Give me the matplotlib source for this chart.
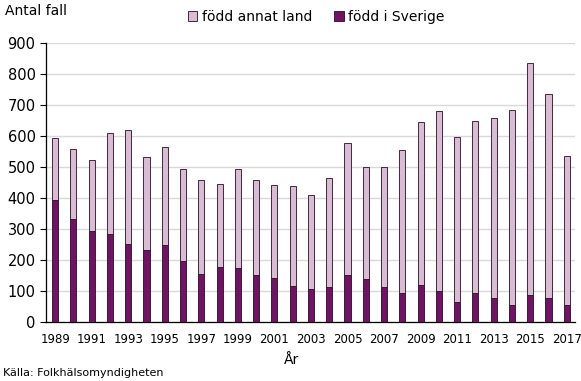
import numpy as np
import matplotlib
matplotlib.use("Agg")
import matplotlib.pyplot as plt

years = list(range(1989, 2018))
total = [595, 558, 522, 611, 620, 531, 566, 494, 457, 446, 494, 458, 441, 440,
         410, 465, 577, 499, 499, 555, 645, 680, 596, 647, 658, 685, 836, 735, 535]
sverige = [393, 331, 294, 283, 253, 232, 250, 198, 155, 178, 175, 151, 141, 116,
           107, 113, 151, 139, 112, 95, 119, 99, 65, 95, 76, 56, 86, 76, 54]
annat = [t - s for t, s in zip(total, sverige)]

dark = "#6e1463"
light = "#d8bcd3"

fig = plt.figure(figsize=(5.81, 3.81), dpi=100)
ax = fig.add_axes([46 / 581, 1 - 322 / 381, (575 - 46) / 581, (322 - 43) / 381])

x = np.array(years)
ax.bar(x, sverige, width=0.33, color=dark, edgecolor="#2a0a25", linewidth=0.6, zorder=3,
       label="född i Sverige")
ax.bar(x, annat, bottom=sverige, width=0.33, color=light, edgecolor="#2a0a25",
       linewidth=0.6, zorder=3, label="född annat land")

ax.set_ylim(0, 900)
ax.set_xlim(1988.5, 2017.45)
ax.set_yticks(range(0, 901, 100))
ax.set_xticks(years[::2])
ax.tick_params(axis="y", labelsize=10.5, length=4, width=0.8, direction="out")
ax.tick_params(axis="x", labelsize=8.5, length=0, pad=8)
ax.grid(axis="y", color="#d9d9d9", linewidth=1, zorder=0)
for s in ["top", "right"]:
    ax.spines[s].set_visible(False)
ax.spines["left"].set_linewidth(0.9)
ax.spines["bottom"].set_linewidth(0.9)

handles, labels = ax.get_legend_handles_labels()
fig.legend(handles[::-1], labels[::-1], loc="center", bbox_to_anchor=(316 / 581, 1 - 17 / 381),
           ncol=2, frameon=False, fontsize=10, handlelength=0.7, handleheight=0.7,
           columnspacing=1.6, handletextpad=0.3)

fig.text(5 / 581, 1 - 11 / 381, "Antal fall", fontsize=10, va="center", ha="left")
fig.text(292 / 581, 1 - 360 / 381, "År", fontsize=10, va="center", ha="center")
fig.text(3 / 581, 1 - 373 / 381, "Källa: Folkhälsomyndigheten", fontsize=8, va="center", ha="left")

fig.savefig("out.png", dpi=100)
